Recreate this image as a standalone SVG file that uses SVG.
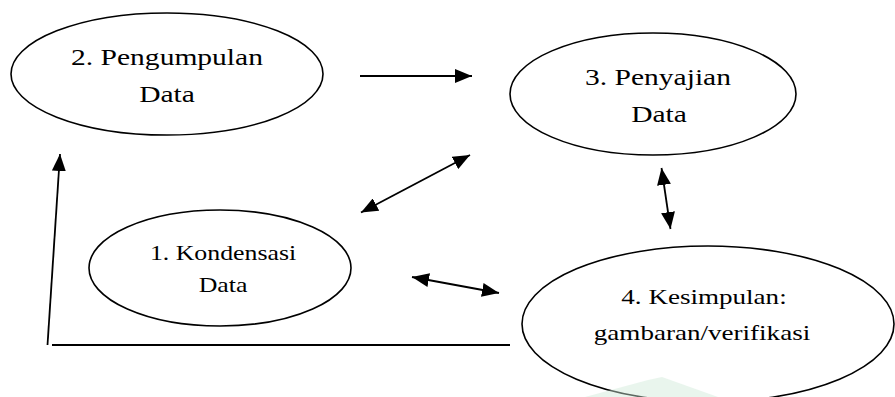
<svg xmlns="http://www.w3.org/2000/svg" width="895" height="397" viewBox="0 0 895 397">
  <style>
    .node ellipse { fill: #ffffff; stroke: #000000; stroke-width: 1.6; }
    .conn line { stroke: #000000; stroke-width: 1.8; fill: none; }
    text { font-family: "Liberation Serif", "Times New Roman", serif; fill: #000000; text-anchor: middle; }
  </style>
  <defs>
    <marker id="head" viewBox="0 0 17 14" refX="17" refY="7" markerWidth="17" markerHeight="14" markerUnits="userSpaceOnUse" orient="auto-start-reverse">
      <path d="M0,0 L17,7 L0,14 Z" fill="#000000"/>
    </marker>
  </defs>
  <rect width="895" height="397" fill="#ffffff"/>

  <!-- 2. Pengumpulan Data -->
  <g id="pengumpulan" class="node">
    <ellipse cx="167" cy="74" rx="156" ry="61"/>
    <text font-size="24" transform="matrix(1.23 0 0 1 167 0)" x="0" y="65">2. Pengumpulan</text>
    <text font-size="24" transform="matrix(1.23 0 0 1 167 0)" x="0" y="102">Data</text>
  </g>

  <!-- 3. Penyajian Data -->
  <g id="penyajian" class="node">
    <ellipse cx="653" cy="94" rx="143" ry="61"/>
    <text font-size="24" transform="matrix(1.23 0 0 1 658 0)" x="0" y="85">3. Penyajian</text>
    <text font-size="24" transform="matrix(1.23 0 0 1 659 0)" x="0" y="122">Data</text>
  </g>

  <!-- 1. Kondensasi Data -->
  <g id="kondensasi" class="node">
    <ellipse cx="220" cy="268" rx="131" ry="58"/>
    <text font-size="21" transform="matrix(1.23 0 0 1 223 0)" x="0" y="260">1. Kondensasi</text>
    <text font-size="21" transform="matrix(1.23 0 0 1 223 0)" x="0" y="292">Data</text>
  </g>

  <!-- 4. Kesimpulan: gambaran/verifikasi -->
  <g id="kesimpulan" class="node">
    <ellipse cx="708" cy="324" rx="186" ry="78"/>
    <text font-size="22" transform="matrix(1.23 0 0 1 704 0)" x="0" y="304">4. Kesimpulan:</text>
    <text font-size="22" transform="matrix(1.23 0 0 1 702 0)" x="0" y="340">gambaran/verifikasi</text>
  </g>

  <g id="connectors" class="conn">
    <!-- collection to display -->
    <line x1="360" y1="76" x2="472" y2="76" marker-end="url(#head)"/>
    <!-- display to condensation, both ways -->
    <line x1="361" y1="212.5" x2="470" y2="155" marker-start="url(#head)" marker-end="url(#head)"/>
    <!-- condensation to conclusion, both ways -->
    <line x1="412" y1="277" x2="499" y2="293" marker-start="url(#head)" marker-end="url(#head)"/>
    <!-- display to conclusion, both ways -->
    <line x1="661.5" y1="168" x2="670.5" y2="229" marker-start="url(#head)" marker-end="url(#head)"/>
    <!-- feedback loop back to collection -->
    <line x1="52" y1="345" x2="510" y2="345"/>
    <line x1="47.5" y1="345" x2="60" y2="154" marker-end="url(#head)"/>
  </g>

  <!-- faint emblem along the bottom edge -->
  <path d="M585,397 L648,380 L662,377 L718,397 Z" fill="#cfe9d8" opacity="0.45"/>
</svg>
